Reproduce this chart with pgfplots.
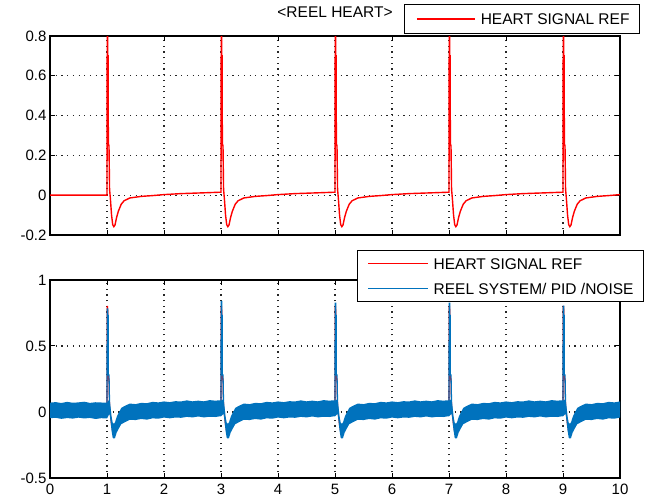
\documentclass[border=0pt]{standalone}
\usepackage{fontspec}
\setmainfont{Liberation Sans}
\usepackage{pgfplots}
\pgfplotsset{compat=1.18}
\usepackage{pgfplotstable}
\definecolor{mblue}{RGB}{0,114,189}

% reference heart signal
\pgfplotstableread{
x y
0.000 0.000
1.000 0.000
1.004 0.800
1.012 0.800
1.013 0.700
1.022 0.700
1.023 0.250
1.035 0.250
1.045 0.030
1.060 -0.020
1.080 -0.100
1.100 -0.148
1.120 -0.158
1.140 -0.150
1.170 -0.110
1.200 -0.080
1.250 -0.045
1.300 -0.028
1.400 -0.014
1.600 -0.006
1.800 -0.002
2.000 0.003
2.300 0.008
2.600 0.011
2.990 0.015
3.000 0.015
3.004 0.800
3.012 0.800
3.013 0.700
3.022 0.700
3.023 0.250
3.035 0.250
3.045 0.030
3.060 -0.020
3.080 -0.100
3.100 -0.148
3.120 -0.158
3.140 -0.150
3.170 -0.110
3.200 -0.080
3.250 -0.045
3.300 -0.028
3.400 -0.014
3.600 -0.006
3.800 -0.002
4.000 0.003
4.300 0.008
4.600 0.011
4.990 0.015
5.000 0.015
5.004 0.800
5.012 0.800
5.013 0.700
5.022 0.700
5.023 0.250
5.035 0.250
5.045 0.030
5.060 -0.020
5.080 -0.100
5.100 -0.148
5.120 -0.158
5.140 -0.150
5.170 -0.110
5.200 -0.080
5.250 -0.045
5.300 -0.028
5.400 -0.014
5.600 -0.006
5.800 -0.002
6.000 0.003
6.300 0.008
6.600 0.011
6.990 0.015
7.000 0.015
7.004 0.800
7.012 0.800
7.013 0.700
7.022 0.700
7.023 0.250
7.035 0.250
7.045 0.030
7.060 -0.020
7.080 -0.100
7.100 -0.148
7.120 -0.158
7.140 -0.150
7.170 -0.110
7.200 -0.080
7.250 -0.045
7.300 -0.028
7.400 -0.014
7.600 -0.006
7.800 -0.002
8.000 0.003
8.300 0.008
8.600 0.011
8.990 0.015
9.000 0.015
9.004 0.800
9.012 0.800
9.013 0.700
9.022 0.700
9.023 0.250
9.035 0.250
9.045 0.030
9.060 -0.020
9.080 -0.100
9.100 -0.148
9.120 -0.158
9.140 -0.150
9.170 -0.110
9.200 -0.080
9.250 -0.045
9.300 -0.028
9.400 -0.014
9.600 -0.006
9.800 -0.002
10.000 0.003
}\redsig

% noisy band of the real system: upper envelope forward, lower envelope back
\pgfplotstableread{
x y
0.0 0.071
0.1 0.075
0.2 0.068
0.3 0.077
0.4 0.070
0.5 0.073
0.6 0.078
0.7 0.069
0.8 0.074
0.9 0.072
1.0 0.071
1.045 0.097
1.06 0.047
1.08 -0.033
1.10 -0.081
1.12 -0.089
1.14 -0.079
1.17 -0.037
1.20 -0.010
1.25 0.031
1.30 0.044
1.40 0.064
1.50 0.060
1.60 0.069
1.70 0.067
1.80 0.077
1.90 0.073
2.00 0.080
2.10 0.075
2.20 0.082
2.30 0.080
2.40 0.088
2.50 0.081
2.60 0.086
2.70 0.081
2.80 0.090
2.90 0.086
2.99 0.089
3.00 0.086
3.045 0.097
3.06 0.047
3.08 -0.033
3.10 -0.081
3.12 -0.089
3.14 -0.079
3.17 -0.037
3.20 -0.010
3.25 0.031
3.30 0.044
3.40 0.064
3.50 0.060
3.60 0.069
3.70 0.067
3.80 0.077
3.90 0.073
4.00 0.080
4.10 0.075
4.20 0.082
4.30 0.080
4.40 0.088
4.50 0.081
4.60 0.086
4.70 0.081
4.80 0.090
4.90 0.086
4.99 0.089
5.00 0.086
5.045 0.097
5.06 0.047
5.08 -0.033
5.10 -0.081
5.12 -0.089
5.14 -0.079
5.17 -0.037
5.20 -0.010
5.25 0.031
5.30 0.044
5.40 0.064
5.50 0.060
5.60 0.069
5.70 0.067
5.80 0.077
5.90 0.073
6.00 0.080
6.10 0.075
6.20 0.082
6.30 0.080
6.40 0.088
6.50 0.081
6.60 0.086
6.70 0.081
6.80 0.090
6.90 0.086
6.99 0.089
7.00 0.086
7.045 0.097
7.06 0.047
7.08 -0.033
7.10 -0.081
7.12 -0.089
7.14 -0.079
7.17 -0.037
7.20 -0.010
7.25 0.031
7.30 0.044
7.40 0.064
7.50 0.060
7.60 0.069
7.70 0.067
7.80 0.077
7.90 0.073
8.00 0.080
8.10 0.075
8.20 0.082
8.30 0.080
8.40 0.088
8.50 0.081
8.60 0.086
8.70 0.081
8.80 0.090
8.90 0.086
8.99 0.089
9.00 0.086
9.045 0.097
9.06 0.047
9.08 -0.033
9.10 -0.081
9.12 -0.089
9.14 -0.079
9.17 -0.037
9.20 -0.010
9.25 0.031
9.30 0.044
9.40 0.064
9.50 0.060
9.60 0.069
9.70 0.067
9.80 0.077
9.90 0.073
10.00 0.080
10.00 -0.042
9.90 -0.051
9.80 -0.048
9.70 -0.058
9.60 -0.053
9.50 -0.061
9.40 -0.059
9.30 -0.081
9.25 -0.092
9.20 -0.131
9.17 -0.156
9.14 -0.198
9.12 -0.201
9.10 -0.195
9.08 -0.143
9.06 -0.063
9.045 -0.013
9.00 -0.034
8.99 -0.032
8.90 -0.038
8.80 -0.036
8.70 -0.041
8.60 -0.034
8.50 -0.041
8.40 -0.037
8.30 -0.044
8.20 -0.042
8.10 -0.048
8.00 -0.042
7.90 -0.051
7.80 -0.048
7.70 -0.058
7.60 -0.053
7.50 -0.061
7.40 -0.059
7.30 -0.081
7.25 -0.092
7.20 -0.131
7.17 -0.156
7.14 -0.198
7.12 -0.201
7.10 -0.195
7.08 -0.143
7.06 -0.063
7.045 -0.013
7.00 -0.034
6.99 -0.032
6.90 -0.038
6.80 -0.036
6.70 -0.041
6.60 -0.034
6.50 -0.041
6.40 -0.037
6.30 -0.044
6.20 -0.042
6.10 -0.048
6.00 -0.042
5.90 -0.051
5.80 -0.048
5.70 -0.058
5.60 -0.053
5.50 -0.061
5.40 -0.059
5.30 -0.081
5.25 -0.092
5.20 -0.131
5.17 -0.156
5.14 -0.198
5.12 -0.201
5.10 -0.195
5.08 -0.143
5.06 -0.063
5.045 -0.013
5.00 -0.034
4.99 -0.032
4.90 -0.038
4.80 -0.036
4.70 -0.041
4.60 -0.034
4.50 -0.041
4.40 -0.037
4.30 -0.044
4.20 -0.042
4.10 -0.048
4.00 -0.042
3.90 -0.051
3.80 -0.048
3.70 -0.058
3.60 -0.053
3.50 -0.061
3.40 -0.059
3.30 -0.081
3.25 -0.092
3.20 -0.131
3.17 -0.156
3.14 -0.198
3.12 -0.201
3.10 -0.195
3.08 -0.143
3.06 -0.063
3.045 -0.013
3.00 -0.034
2.99 -0.032
2.90 -0.038
2.80 -0.036
2.70 -0.041
2.60 -0.034
2.50 -0.041
2.40 -0.037
2.30 -0.044
2.20 -0.042
2.10 -0.048
2.00 -0.042
1.90 -0.051
1.80 -0.048
1.70 -0.058
1.60 -0.053
1.50 -0.061
1.40 -0.059
1.30 -0.081
1.25 -0.092
1.20 -0.131
1.17 -0.156
1.14 -0.198
1.12 -0.201
1.10 -0.195
1.08 -0.143
1.06 -0.063
1.045 -0.013
1.0 -0.049
0.9 -0.047
0.8 -0.053
0.7 -0.045
0.6 -0.049
0.5 -0.043
0.4 -0.050
0.3 -0.046
0.2 -0.052
0.1 -0.044
0.0 -0.047
}\band

% spikes of the real system
\pgfplotstableread{
x y
1.000 0.012
1.004 0.780
1.012 0.780
1.013 0.730
1.022 0.730
1.023 0.280
1.035 0.280
1.045 0.042
1.060 -0.008
nan nan
3.000 0.027
3.004 0.836
3.012 0.836
3.013 0.730
3.022 0.730
3.023 0.280
3.035 0.280
3.045 0.042
3.060 -0.008
nan nan
5.000 0.027
5.004 0.823
5.012 0.823
5.013 0.730
5.022 0.730
5.023 0.280
5.035 0.280
5.045 0.042
5.060 -0.008
nan nan
7.000 0.027
7.004 0.823
7.012 0.823
7.013 0.730
7.022 0.730
7.023 0.280
7.035 0.280
7.045 0.042
7.060 -0.008
nan nan
9.000 0.027
9.004 0.800
9.012 0.800
9.013 0.730
9.022 0.730
9.023 0.280
9.035 0.280
9.045 0.042
9.060 -0.008
}\bluespk

\pgfplotsset{
  mlab/.style={
    scale only axis, width=570bp,
    xmin=0, xmax=10, xtick={0,1,2,3,4,5,6,7,8,9,10},
    tick align=inside, xtick pos=both, ytick pos=both,
    major tick length=5bp,
    tick style={black, line width=1bp},
    axis line style={black, line width=1.2bp},
    grid=major,
    major grid style={black!85, line width=1.2bp, dash pattern=on 1.2bp off 4.5bp},
    tick label style={font=\fontsize{15bp}{18bp}\selectfont},
    /pgf/number format/assume math mode=true,
    legend cell align=left,
    unbounded coords=jump,
  },
  lgd/.style={
    legend style={draw=black, line width=1bp, inner xsep=5bp, inner ysep=0.5bp,
      font=\fontsize{15.5bp}{18bp}\selectfont,
      nodes={inner xsep=5bp, inner ysep=0bp, text height=11bp, text depth=0bp}},
  },
}

\begin{document}
\begin{tikzpicture}
\path[use as bounding box] (0,0) rectangle (645bp,502bp);

\begin{axis}[mlab, lgd,
  at={(50bp,267bp)}, anchor=south west, height=199bp,
  ymin=-0.2, ymax=0.8,
  ytick={-0.2,0,0.2,0.4,0.6,0.8},
  yticklabels={-0.2,0,0.2,0.4,0.6,0.8},
  xticklabels={},
  title={<REEL HEART>},
  title style={at={(0.5,1)}, anchor=base, yshift=12.5bp, inner sep=0pt,
    font=\fontsize{15.5bp}{18bp}\selectfont},
  legend style={at={(1.0351,1.1608)}, anchor=north east},
  legend image code/.code={\path[draw=none] (0bp,-14bp) rectangle (66bp,14bp);
    \draw[#1] (7bp,0bp) -- (65bp,0bp);},
]
\addplot[draw=red, line width=1.4bp] table[x=x, y=y] {\redsig};
\addlegendentry{HEART SIGNAL REF}
\end{axis}

\begin{axis}[mlab, lgd,
  at={(50bp,24bp)}, anchor=south west, height=198bp,
  ymin=-0.5, ymax=1,
  ytick={-0.5,0,0.5,1},
  yticklabels={-0.5,0,0.5,1},
  xticklabels={0,1,2,3,4,5,6,7,8,9,10},
  xticklabel style={yshift=-3bp},
  legend style={at={(1.0421,1.1515)}, anchor=north east},
  legend image code/.code={\path[draw=none] (0bp,-12.5bp) rectangle (66bp,12.5bp);
    \draw[#1] (6bp,0bp) -- (66bp,0bp);},
]
\addplot[draw=red, line width=1.1bp] table[x=x, y=y] {\redsig};
\addlegendentry{HEART SIGNAL REF}
\addplot[fill=mblue, draw=none, forget plot] table[x=x, y=y] {\band} -- cycle;
\addplot[draw=mblue, line width=1.3bp] table[x=x, y=y] {\bluespk};
\addlegendentry{REEL SYSTEM/ PID /NOISE}
\end{axis}
\end{tikzpicture}
\end{document}
